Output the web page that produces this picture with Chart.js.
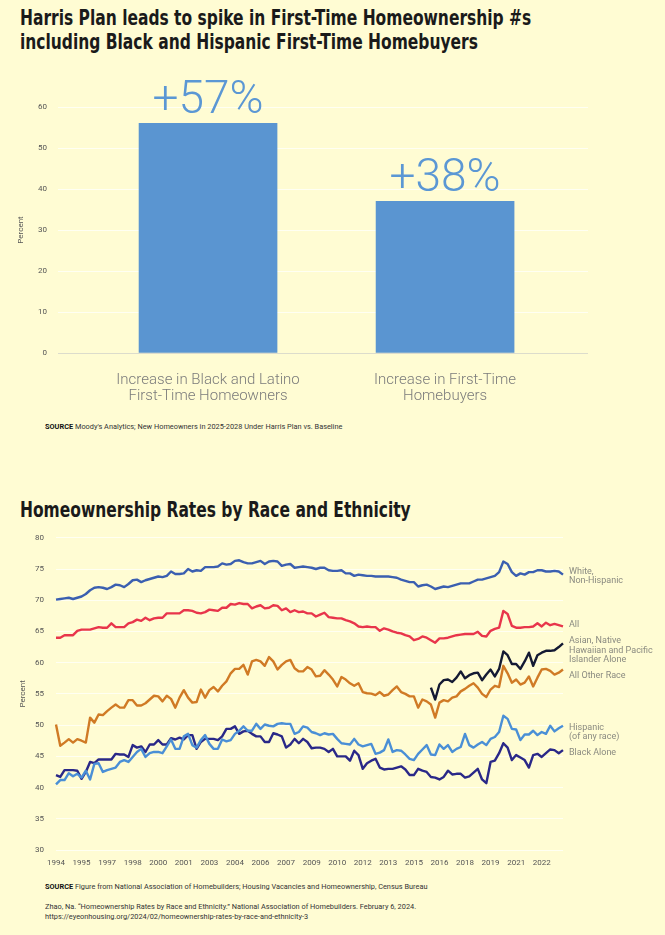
<!DOCTYPE html>
<html>
<head>
<meta charset="utf-8">
<script src="https://cdn.jsdelivr.net/npm/chart.js@4/dist/chart.umd.min.js"></script>
<style>
  html, body { margin: 0; padding: 0; }
  body { width: 665px; height: 935px; background: #fffcd3; position: relative; overflow: hidden; font-family: Roboto, "Liberation Sans", sans-serif; }
  .title { position: absolute; left: 20px; white-space: nowrap; font-family: "Liberation Sans Narrow", "DejaVu Sans Condensed", "Liberation Sans", sans-serif; font-weight: bold; font-size: 21px; line-height: 24px; color: #1a1a1a; transform: scaleX(0.82); transform-origin: 0 0; }
  .src { position: absolute; left: 45px; white-space: nowrap; font-family: "Liberation Sans Narrow", Roboto, sans-serif; font-size: 8px; color: #333; line-height: 10px; transform: scaleX(0.92); transform-origin: 0 0; }
  .src b { color: #111; }
  canvas { position: absolute; left: 0; }
</style>
</head>
<body>
<div class="title" style="top:6px">Harris Plan leads to spike in First-Time Homeownership #s<br>including Black and Hispanic First-Time Homebuyers</div>
<canvas id="c1" width="665" height="360" style="top:50px"></canvas>
<div class="src" style="top:422px"><b>SOURCE</b> Moody's Analytics; New Homeowners in 2025-2028 Under Harris Plan vs. Baseline</div>

<div class="title" style="top:498px">Homeownership Rates by Race and Ethnicity</div>
<canvas id="c2" width="665" height="354" style="top:521px"></canvas>
<div class="src" style="top:882px"><b>SOURCE</b> Figure from National Association of Homebuilders; Housing Vacancies and Homeownership, Census Bureau</div>
<div class="src" style="top:902px">Zhao, Na. “Homeownership Rates by Race and Ethnicity.” National Association of Homebuilders. February 6, 2024.<br>https://eyeonhousing.org/2024/02/homeownership-rates-by-race-and-ethnicity-3</div>

<script>
// ---------- Chart 1 data ----------
const barCategories = [["Increase in Black and Latino", "First-Time Homeowners"], ["Increase in First-Time", "Homebuyers"]];
const barValues = [56, 37];
const barLabels = ["+57%", "+38%"];
const barTicks = [0, 10, 20, 30, 40, 50, 60];

// ---------- Chart 2 data ----------
const years = [1994,1995,1996,1997,1998,1999,2000,2001,2002,2003,2004,2005,2006,2007,2008,2009,2010,2011,2012,2013,2014,2015,2016,2017,2018,2019,2020,2021,2022,2023];
const seriesNames = ["White, Non-Hispanic", "All", "Asian, Native Hawaiian and Pacific Islander Alone", "All Other Race", "Hispanic (of any race)", "Black Alone"];
const whiteNH = [
70.1,70.2,70.3,70.4, 70.2,70.4,70.6,71.0, 71.6,72.0,72.1,72.0, 71.8,72.1,72.5,72.4,
72.1,72.6,73.2,73.3, 72.9,73.2,73.4,73.6, 73.8,73.7,73.9,74.6, 74.2,74.2,74.3,75.0,
74.6,74.8,74.7,75.3, 75.3,75.3,75.4,75.9, 75.7,75.8,76.3,76.4, 76.1,75.9,75.9,76.1,
76.3,75.8,76.2,76.3, 76.2,75.5,75.7,75.8, 75.2,75.3,75.4,75.3, 75.2,75.0,75.2,75.2,
74.8,74.7,74.7,74.8, 74.3,74.3,73.9,74.1, 74.0,73.9,73.9,73.8, 73.8,73.8,73.8,73.7,
73.6,73.3,73.1,72.9, 72.9,72.2,72.4,72.5, 72.2,71.8,72.0,72.2, 72.1,72.3,72.5,72.7,
72.7,72.7,73.0,73.3, 73.3,73.5,73.7,73.9, 74.5,76.2,75.8,74.5, 73.9,74.3,74.1,74.5,
74.5,74.8,74.8,74.6, 74.6,74.7,74.6,74.1];
const allRate = [
64.0,64.0,64.4,64.4, 64.4,65.1,65.3,65.3, 65.3,65.5,65.7,65.6, 65.6,66.3,65.7,65.7,
65.7,66.3,66.5,66.9, 66.7,67.2,66.8,67.1, 67.2,67.2,67.9,67.9, 67.9,67.9,68.4,68.4,
68.3,68.0,67.9,68.1, 68.5,68.4,68.3,68.8, 68.8,69.4,69.3,69.55, 69.4,69.4,68.7,69.0,
69.2,68.7,68.8,69.2, 69.1,68.4,68.7,68.1, 68.4,68.1,68.2,67.9, 67.9,67.4,67.7,68.0,
67.3,67.2,67.1,67.1, 66.8,66.6,66.3,65.8, 65.7,65.8,65.7,65.7, 65.1,65.5,65.3,65.0,
64.8,64.7,64.4,64.2, 63.6,63.8,64.2,64.0, 63.6,63.2,63.9,63.9, 64.0,64.2,64.4,64.5,
64.6,64.6,64.6,64.95, 64.3,64.2,65.1,65.4, 65.6,68.3,67.8,65.9, 65.6,65.6,65.7,65.7,
65.8,66.3,65.8,66.4, 66.0,66.2,66.0,65.8];
const asianNHPI = [
null,null,null,null, null,null,null,null, null,null,null,null, null,null,null,null,
null,null,null,null, null,null,null,null, null,null,null,null, null,null,null,null,
null,null,null,null, null,null,null,null, null,null,null,null, null,null,null,null,
null,null,null,null, null,null,null,null, null,null,null,null, null,null,null,null,
null,null,null,null, null,null,null,null, null,null,null,null, null,null,null,null,
null,null,null,null, null,null,null,null, 56.0,54.1,56.5,57.2, 57.3,56.9,57.6,58.6,
57.5,58.0,58.3,58.4, 57.2,58.1,58.9,57.8, 59.0,61.8,61.2,59.8, 59.8,59.0,60.2,61.6,
59.5,61.2,61.6,61.9, 61.9,62.0,62.5,63.1];
const allOtherRace = [
50.1,46.7,47.2,47.75, 47.2,47.75,47.5,47.2, 51.2,50.4,51.7,51.6, 52.25,52.8,53.3,52.8,
52.8,54.0,54.0,53.15, 53.15,53.5,54.1,54.7, 54.6,53.8,54.7,54.2, 52.8,54.4,55.6,54.4,
53.6,53.7,55.7,54.4, 55.6,56.1,55.4,56.3, 57.0,58.3,59.0,59.0, 59.65,58.1,60.2,60.45,
60.2,59.5,60.9,60.2, 58.9,59.65,60.2,60.45, 59.1,58.6,58.6,59.3, 58.9,57.8,57.9,58.8,
58.1,57.3,56.2,57.7, 57.3,56.7,56.3,56.7, 55.3,55.1,55.05,54.8, 55.3,54.7,54.9,55.6,
56.2,55.3,55.0,54.6, 54.6,52.8,54.1,53.8, 53.3,51.2,53.6,54.0, 53.8,54.4,54.6,55.4,
55.8,56.3,56.7,56.0, 55.0,54.5,55.7,56.3, 56.1,59.5,58.3,56.8, 57.3,56.5,56.8,57.8,
56.2,57.6,58.9,59.0, 58.7,58.1,58.4,58.9];
const hispanic = [
40.5,41.2,41.2,42.3, 41.8,42.2,41.6,42.7, 41.3,43.8,43.9,42.5, 42.8,43.0,43.2,44.1,
44.4,44.1,44.9,45.7, 46.2,44.9,45.5,45.7, 45.7,45.5,46.6,47.7, 46.2,46.2,48.2,48.6,
46.8,46.4,47.6,48.4, 47.0,46.2,46.2,47.7, 47.4,47.6,48.6,49.1, 49.8,49.1,49.1,50.2,
49.4,50.1,49.9,49.8, 50.2,50.3,50.2,50.2, 48.6,48.9,49.8,49.6, 48.9,48.7,48.4,48.7,
48.5,48.6,47.8,47.1, 47.0,46.9,47.8,46.9, 46.6,46.8,47.0,45.4, 45.6,46.0,47.7,45.7,
46.0,45.9,45.3,44.6, 44.4,45.4,46.1,46.8, 45.3,45.2,46.9,46.2, 46.8,45.7,46.2,46.5,
48.6,46.8,46.4,46.9, 47.3,46.8,47.8,48.1, 48.9,51.5,51.0,49.4, 49.3,47.6,48.5,48.5,
49.1,48.4,48.9,48.6, 49.9,49.0,49.5,49.9];
const blackAlone = [
42.0,41.7,42.8,42.8, 42.8,42.7,41.4,42.5, 44.1,43.9,44.5,44.5, 44.5,44.5,45.4,45.3,
45.3,44.9,46.8,46.4, 46.6,45.7,46.9,46.9, 47.6,46.9,46.9,47.9, 47.7,48.0,47.7,48.4,
48.4,46.2,47.3,47.8, 47.8,47.8,47.6,48.2, 49.4,49.4,49.8,48.6, 49.0,49.1,48.6,48.2,
48.2,47.3,47.3,48.7, 48.5,48.2,46.4,46.9, 47.8,47.1,47.8,47.3, 46.3,46.4,46.4,46.2,
45.7,46.2,45.0,45.0, 45.0,44.3,45.9,45.2, 43.0,43.9,44.3,44.6, 43.2,42.9,43.0,43.0,
43.2,43.4,42.9,42.0, 42.0,43.0,42.7,42.5, 41.7,41.6,41.3,41.7, 42.7,42.1,42.2,42.2,
41.6,41.8,42.4,43.0, 41.3,40.7,44.1,44.3, 45.5,47.1,46.4,44.4, 45.2,44.8,44.4,43.2,
45.2,45.4,44.9,45.5, 46.1,46.0,45.5,46.0];
const rateTicks = [30, 35, 40, 45, 50, 55, 60, 65, 70, 75, 80];

// quarter categories built from the year list
const quarterLabels = [];
years.forEach(y => { for (let q = 0; q < 4; q++) quarterLabels.push(String(y)); });

const GRID = '#fffff2';

// ---------- Chart 1 ----------
const barLabelPlugin = {
  id: 'barLabels',
  afterDatasetsDraw(chart) {
    const ctx = chart.ctx;
    const meta = chart.getDatasetMeta(0);
    ctx.save();
    ctx.fillStyle = '#5b97d4';
    ctx.font = '300 46px Roboto, "Liberation Sans", sans-serif';
    ctx.textAlign = 'center';
    ctx.textBaseline = 'alphabetic';
    meta.data.forEach((bar, i) => {
      ctx.fillText(barLabels[i], bar.x, bar.y - 10);
    });
    ctx.restore();
  }
};

new Chart(document.getElementById('c1'), {
  type: 'bar',
  data: {
    datasets: [{
      data: barValues.map((v, i) => ({ x: i + 1, y: v })),
      backgroundColor: '#5a95d1',
      borderWidth: 0,
      barThickness: 138
    }]
  },
  options: {
    responsive: false,
    animation: false,
    events: [],
    layout: { padding: { top: 57, right: 77, left: 0, bottom: 0 } },
    plugins: { legend: { display: false }, tooltip: { enabled: false } },
    scales: {
      x: {
        type: 'linear',
        offset: false,
        min: 0.367, max: 2.603,
        afterBuildTicks: s => { s.ticks = [{ value: 1 }, { value: 2 }]; },
        afterFit: s => { s.height = 57; s.paddingLeft = 0; s.paddingRight = 0; },
        grid: { display: false, drawTicks: false, offset: false },
        border: { display: false },
        ticks: {
          autoSkip: false, maxRotation: 0, padding: 19,
          color: '#7b7b7b',
          font: { family: 'Roboto', weight: 300, size: 15, lineHeight: 1.07 },
          callback: v => barCategories[Math.round(v) - 1]
        }
      },
      y: {
        min: 0, max: 60,
        afterBuildTicks: s => { s.ticks = barTicks.map(v => ({ value: v })); },
        afterFit: s => { s.width = 58; },
        grid: { color: c => c.tick.value === 0 ? '#dcdccc' : GRID, lineWidth: 1, drawTicks: false },
        border: { display: false },
        ticks: { padding: 11, color: '#555', font: { family: 'Roboto', size: 8 } },
        title: { display: true, text: 'Percent', color: '#555', font: { family: 'Roboto', size: 8 }, padding: { top: 16, bottom: 0 } }
      }
    }
  },
  plugins: [barLabelPlugin]
});

// ---------- Chart 2 ----------
const endLabels = [
  { lines: ['White,', 'Non-Hispanic'], at: 74.6 },
  { lines: ['All'], at: 66.1 },
  { lines: ['Asian, Native', 'Hawaiian and Pacific', 'Islander Alone'], at: 63.5 },
  { lines: ['All Other Race'], at: 57.95 },
  { lines: ['Hispanic', '(of any race)'], at: 49.65 },
  { lines: ['Black Alone'], at: 45.6 }
];
const endLabelPlugin = {
  id: 'endLabels',
  afterDraw(chart) {
    const ctx = chart.ctx;
    const ys = chart.scales.y;
    const x = chart.chartArea.right + 6;
    ctx.save();
    ctx.fillStyle = '#8a8a80';
    ctx.font = '9px Roboto, "Liberation Sans", sans-serif';
    ctx.textAlign = 'left';
    ctx.textBaseline = 'middle';
    endLabels.forEach(l => {
      const y0 = ys.getPixelForValue(l.at);
      l.lines.forEach((t, k) => ctx.fillText(t, x, y0 + k * 9.5));
    });
    ctx.restore();
  }
};

const lineDs = (label, data, color) => ({
  label, data, borderColor: color, backgroundColor: color,
  borderWidth: 2.4, pointRadius: 0, tension: 0, spanGaps: false,
  borderJoinStyle: 'round'
});

new Chart(document.getElementById('c2'), {
  type: 'line',
  data: {
    labels: quarterLabels,
    datasets: [
      lineDs(seriesNames[0], whiteNH, '#3b5fb0'),
      lineDs(seriesNames[1], allRate, '#e8354b'),
      lineDs(seriesNames[3], allOtherRace, '#d07a25'),
      lineDs(seriesNames[4], hispanic, '#4a8fd6'),
      lineDs(seriesNames[5], blackAlone, '#2a2888'),
      lineDs(seriesNames[2], asianNHPI, '#141a33')
    ]
  },
  options: {
    responsive: false,
    animation: false,
    events: [],
    layout: { padding: { top: 8, right: 102, left: 0, bottom: 0 } },
    plugins: { legend: { display: false }, tooltip: { enabled: false } },
    scales: {
      x: {
        type: 'category',
        offset: false,
        afterFit: s => { s.height = 25; },
        grid: { display: false, drawTicks: false },
        border: { display: false },
        ticks: {
          autoSkip: false, maxRotation: 0, padding: 8,
          color: '#555', font: { family: 'Roboto', size: 8 },
          callback: function (v, i) { return i % 6 === 0 ? this.getLabelForValue(v) : ''; }
        }
      },
      y: {
        min: 30, max: 80,
        afterBuildTicks: s => { s.ticks = rateTicks.map(v => ({ value: v })); },
        afterFit: s => { s.width = 56; },
        grid: { color: GRID, lineWidth: 1, drawTicks: false },
        border: { display: false },
        ticks: { padding: 12, color: '#555', font: { family: 'Roboto', size: 8 } },
        title: { display: true, text: 'Percent', color: '#555', font: { family: 'Roboto', size: 8 }, padding: { top: 18, bottom: 0 } }
      }
    }
  },
  plugins: [endLabelPlugin]
});
</script>
</body>
</html>
